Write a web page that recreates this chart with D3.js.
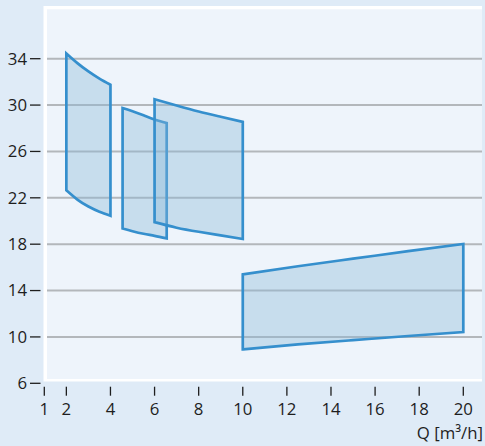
<!DOCTYPE html>
<html>
<head>
<meta charset="utf-8">
<script src="https://cdn.jsdelivr.net/npm/d3@7"></script>
<style>
  html, body { margin: 0; padding: 0; background: #dfebf7; }
  svg { display: block; font-family: "Open Sans", "Noto Sans", sans-serif; }
</style>
</head>
<body>
<svg id="chart" width="485" height="446"></svg>
<script>
// Flow Q [m3/h] and head values for each operating field (top and bottom curves)
const q1 = [2, 2.5, 3, 3.5, 4];
const top1 = [34.45, 33.62, 32.9, 32.28, 31.75];
const bot1 = [22.65, 21.85, 21.25, 20.8, 20.45];

const q2 = [4.55, 5.0, 5.5, 6.0, 6.55];
const top2 = [29.75, 29.47, 29.12, 28.76, 28.45];
const bot2 = [19.35, 19.12, 18.9, 18.72, 18.5];

const q3 = [6, 7, 8, 9, 10];
const top3 = [30.5, 29.96, 29.44, 28.99, 28.55];
const bot3 = [19.9, 19.42, 19.07, 18.76, 18.45];

const q4 = [10, 12.5, 15, 17.5, 20];
const top4 = [15.4, 16.1, 16.75, 17.4, 18.02];
const bot4 = [8.93, 9.35, 9.72, 10.08, 10.42];

const xTicks = [1, 2, 4, 6, 8, 10, 12, 14, 16, 18, 20];
const yTicks = [6, 10, 14, 18, 22, 26, 30, 34];
const xTitle = "Q [m³/h]";

const fields = [[q1, top1, bot1], [q2, top2, bot2], [q3, top3, bot3], [q4, top4, bot4]];

const svg = d3.select("#chart");
const x = d3.scaleLinear().domain([1, 20]).range([44.3, 463.3]);
const y = d3.scaleLinear().domain([6, 34]).range([383.3, 58.7]);

// panel
svg.append("rect").attr("x", 43.5).attr("y", 6).attr("width", 438.5).attr("height", 375.5).attr("fill", "#ffffff");
svg.append("rect").attr("x", 47).attr("y", 9.3).attr("width", 435).attr("height", 369.7).attr("fill", "#eef4fb");

// grid lines
svg.append("g").selectAll("line").data(yTicks.filter(d => d > 6)).join("line")
  .attr("x1", 47).attr("x2", 482)
  .attr("y1", d => y(d)).attr("y2", d => y(d))
  .attr("stroke", "#b3b7bb").attr("stroke-width", 2);

// fields
const area = d3.area()
  .x(d => x(d.q)).y0(d => y(d.b)).y1(d => y(d.t))
  .curve(d3.curveNatural);

svg.append("g").selectAll("path").data(fields).join("path")
  .attr("d", f => area(f[0].map((q, i) => ({q, t: f[1][i], b: f[2][i]}))))
  .attr("fill", "rgba(138,183,215,0.38)")
  .attr("stroke", "#358fcd")
  .attr("stroke-width", 2.7)
  .attr("stroke-linejoin", "miter");

// y axis
const yAxis = svg.append("g");
yAxis.selectAll("line").data(yTicks).join("line")
  .attr("x1", 30).attr("x2", 40.5)
  .attr("y1", d => y(d)).attr("y2", d => y(d))
  .attr("stroke", "#1e1e1e").attr("stroke-width", 1.3);
yAxis.selectAll("text").data(yTicks).join("text")
  .attr("x", 27).attr("y", d => y(d) + 5.9)
  .attr("text-anchor", "end").attr("font-size", 16.8).attr("fill", "#1e1e1e")
  .text(d => d);

// x axis
const xAxis = svg.append("g");
xAxis.selectAll("line").data(xTicks).join("line")
  .attr("x1", d => x(d)).attr("x2", d => x(d))
  .attr("y1", 386.7).attr("y2", 395.7)
  .attr("stroke", "#1e1e1e").attr("stroke-width", 1.3);
xAxis.selectAll("text").data(xTicks).join("text")
  .attr("x", d => x(d)).attr("y", 415)
  .attr("text-anchor", "middle").attr("font-size", 16.8).attr("fill", "#1e1e1e")
  .text(d => d);

svg.append("text").attr("x", 483).attr("y", 439)
  .attr("text-anchor", "end").attr("font-size", 16.8).attr("fill", "#1e1e1e")
  .text(xTitle);
</script>
</body>
</html>
